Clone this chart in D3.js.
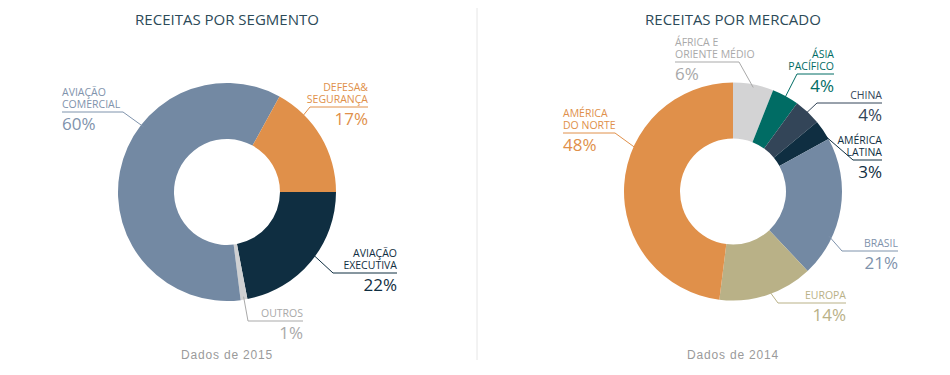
<!DOCTYPE html>
<html>
<head>
<meta charset="utf-8">
<script src="https://cdn.jsdelivr.net/npm/d3@7/dist/d3.min.js"></script>
<style>
body{margin:0;background:#fff;}
svg text{font-family:"Open Sans",sans-serif;}
</style>
</head>
<body>
<svg id="chart" width="950" height="375"></svg>
<script>
// data
var segNames=[["AVIAÇÃO","EXECUTIVA"],["OUTROS"],["AVIAÇÃO","COMERCIAL"],["DEFESA&","SEGURANÇA"]];
var segValues=[22,1,60,17];
var segColors=["#0f2e41","#cfd0d2","#7389a3","#e0904a"];
var segText=["#0f2e41","#a9a9a9","#7f93ac","#e0904a"];

var mktNames=[["ÁFRICA E","ORIENTE MÉDIO"],["ÁSIA","PACÍFICO"],["CHINA"],["AMÉRICA","LATINA"],["BRASIL"],["EUROPA"],["AMÉRICA","DO NORTE"]];
var mktValues=[6,4,4,3,21,14,48];
var mktColors=["#d3d3d4","#006c64","#334558","#0f2e41","#7389a3","#b9b187","#e0904a"];
var mktText=["#a9a9a9","#006c64","#334558","#0f2e41","#7f93ac","#b9b187","#e0904a"];

// label layout: leader angle (deg), elbow, underline end, anchor
var segLayout=[
 {a:126,ex:333,ey:273,hx:397,anchor:"end"},
 {a:171,ex:248,ey:321,hx:303,anchor:"end"},
 {a:308,ex:123,ey:112,hx:62,anchor:"start"},
 {a:45,ex:310,ey:107,hx:368,anchor:"end"}
];
var mktLayout=[
 {a:11,ex:739,ey:62,hx:675,anchor:"start"},
 {a:29,ex:797,ey:74,hx:834,anchor:"end"},
 {a:43,ex:817,ey:103,hx:882,anchor:"end"},
 {a:56,ex:853,ey:160,hx:882,anchor:"end"},
 {a:115,ex:842,ey:251,hx:898,anchor:"end"},
 {a:160,ex:778,ey:303,hx:846,anchor:"end"},
 {a:294,ex:615,ey:133,hx:563,anchor:"start"}
];

var svg=d3.select("#chart");
var rOut=109,rIn=53;

// divider
svg.append("line").attr("x1",477).attr("x2",477).attr("y1",8).attr("y2",360)
  .attr("stroke","#e6e6e6").attr("stroke-width",1);

function donut(cx,cy,start,names,values,colors,textCol,layout,title,foot){
	var g=svg.append("g");
	g.append("text").attr("x",cx).attr("y",25).attr("text-anchor","middle")
	  .attr("font-size",15).attr("fill","#2c4a58").text(title);
	g.append("text").attr("x",cx).attr("y",359).attr("text-anchor","middle")
	  .style("font-family","'Liberation Sans',Arial,sans-serif").attr("font-size",12)
	  .attr("letter-spacing",0.8).attr("fill","#9a9a9a").text(foot);

	var pie=d3.pie().sort(null).startAngle(start).endAngle(start+2*Math.PI);
	var arc=d3.arc().innerRadius(rIn).outerRadius(rOut);
	var p=g.append("g").attr("transform","translate("+cx+","+cy+")");
	p.selectAll("path").data(pie(values)).enter().append("path")
	  .attr("d",arc).attr("fill",function(d,i){return colors[i];});

	layout.forEach(function(L,i){
		var ang=L.a*Math.PI/180;
		var sx=cx+(rOut-3)*Math.sin(ang),sy=cy-(rOut-3)*Math.cos(ang);
		g.append("polyline").attr("points",[[sx,sy],[L.ex,L.ey],[L.hx,L.ey]].join(" "))
		  .attr("fill","none").attr("stroke",textCol[i]).attr("stroke-width",1);
		var tx=L.anchor=="end"?Math.max(L.ex,L.hx):Math.min(L.ex,L.hx);
		var n=names[i].length;
		// both name lines in one text element, stacked with tspans
		var t=g.append("text").attr("text-anchor",L.anchor).attr("font-size",10.5)
		  .attr("fill",textCol[i]);
		names[i].forEach(function(s,k){
			t.append("tspan").attr("x",tx).attr("y",L.ey-4-12*(n-1-k)).text(s);
		});
		g.append("text").attr("x",tx).attr("y",L.ey+18).attr("text-anchor",L.anchor)
		  .attr("font-size",17).attr("fill",textCol[i]).text(values[i]+"%");
	});
}

donut(227,192,Math.PI/2,segNames,segValues,segColors,segText,segLayout,"RECEITAS POR SEGMENTO","Dados de 2015");
donut(733,191.5,0,mktNames,mktValues,mktColors,mktText,mktLayout,"RECEITAS POR MERCADO","Dados de 2014");
</script>
</body>
</html>
